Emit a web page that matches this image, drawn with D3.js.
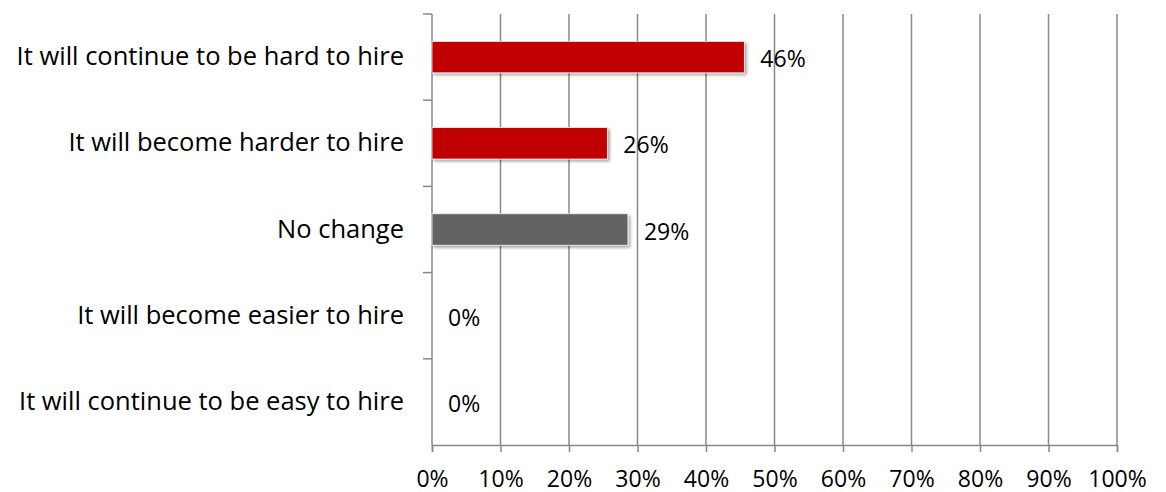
<!DOCTYPE html>
<html>
<head>
<meta charset="utf-8">
<script src="https://cdn.jsdelivr.net/npm/d3@7"></script>
<style>
  body { margin: 0; background: #fff; }
  text { font-family: "Open Sans", sans-serif; fill: #000; }
</style>
</head>
<body>
<svg width="1166" height="492"></svg>
<script>
const categories = [
    "It will continue to be hard to hire",
    "It will become harder to hire",
    "No change",
    "It will become easier to hire",
    "It will continue to be easy to hire"
];
const values = [0.456, 0.256, 0.286, 0, 0];
const barColors = ["#c00000", "#c00000", "#646464", "#c00000", "#c00000"];
const xTicks = [0, 0.1, 0.2, 0.3, 0.4, 0.5, 0.6, 0.7, 0.8, 0.9, 1];

const svg = d3.select("svg");
const margin = { top: 14, right: 49, bottom: 47, left: 432 };
const width = +svg.attr("width") - margin.left - margin.right;
const height = +svg.attr("height") - margin.top - margin.bottom;
const gridColor = "#888";
const font = "'Open Sans', sans-serif";

const g = svg.append("g").attr("transform", `translate(${margin.left},${margin.top})`);

const x = d3.scaleLinear().domain([0, 1]).range([0, width]);
const y = d3.scaleBand().domain(categories).range([0, height]).padding(0);
const barH = y.bandwidth() * 0.365;

// drop shadow for bars
const defs = svg.append("defs");
defs.append("filter")
    .attr("id", "shadow")
    .attr("x", "-5%").attr("y", "-30%")
    .attr("width", "115%").attr("height", "180%")
    .append("feDropShadow")
    .attr("dx", 2).attr("dy", 2)
    .attr("stdDeviation", 1.5)
    .attr("flood-color", "#000")
    .attr("flood-opacity", 0.35);

// vertical gridlines
g.selectAll(".grid")
    .data(xTicks.slice(1))
    .enter()
    .append("line")
    .attr("class", "grid")
    .attr("x1", d => x(d)).attr("x2", d => x(d))
    .attr("y1", 0).attr("y2", height)
    .attr("stroke", gridColor)
    .attr("stroke-width", 1.5);

// x axis
const xAxis = g.append("g")
    .attr("transform", `translate(0,${height})`)
    .call(d3.axisBottom(x).tickValues(xTicks).tickSize(7).tickPadding(23).tickFormat(d3.format(".0%")));
xAxis.select(".domain").attr("stroke", gridColor).attr("stroke-width", 1.5);
xAxis.selectAll(".tick line").attr("stroke", gridColor).attr("stroke-width", 1.5);
xAxis.selectAll("text").style("font-size", "23px").style("font-family", font).attr("dy", "0.5em");

// y axis labels
const yAxis = g.append("g")
    .call(d3.axisLeft(y).tickSize(0).tickPadding(28));
yAxis.select(".domain").remove();
yAxis.selectAll("text").style("font-size", "25.5px").style("font-family", font);

// y axis line + boundary ticks
g.append("line")
    .attr("x1", 0).attr("x2", 0)
    .attr("y1", 0).attr("y2", height)
    .attr("stroke", gridColor).attr("stroke-width", 1.5);
g.selectAll(".ytick")
    .data(categories)
    .enter()
    .append("line")
    .attr("class", "ytick")
    .attr("x1", -9).attr("x2", 0)
    .attr("y1", d => y(d)).attr("y2", d => y(d))
    .attr("stroke", gridColor).attr("stroke-width", 1.5);

// bars
g.selectAll(".bar")
    .data(categories)
    .enter()
    .append("rect")
    .attr("class", "bar")
    .attr("x", x(0))
    .attr("y", d => y(d) + (y.bandwidth() - barH) / 2)
    .attr("width", (d, i) => x(values[i]) - x(0))
    .attr("height", barH)
    .attr("fill", (d, i) => barColors[i])
    .attr("stroke", (d, i) => values[i] > 0 ? "#f2f2f2" : "none")
    .attr("stroke-width", 0.8)
    .attr("filter", "url(#shadow)");

// value labels
g.selectAll(".label")
    .data(categories)
    .enter()
    .append("text")
    .attr("class", "label")
    .attr("x", (d, i) => x(values[i]) + 16)
    .attr("y", d => y(d) + y.bandwidth() / 2 + 2)
    .attr("dy", "0.35em")
    .style("font-size", "23px")
    .text((d, i) => d3.format(".0%")(values[i]));
</script>
</body>
</html>
